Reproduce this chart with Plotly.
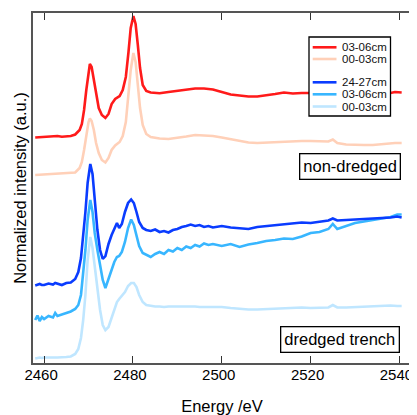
import plotly.graph_objects as go

# ---------------- data ----------------
energy_nd = [2458, 2460, 2462, 2463, 2464, 2466, 2467, 2468, 2468.5, 2469, 2469.5, 2470, 2470.3, 2470.7,
             2471.2, 2471.7, 2472.3, 2473, 2473.8, 2474.5, 2475.2, 2476, 2477, 2477.7, 2478.4, 2479,
             2479.5, 2480.1, 2480.6, 2481.1, 2481.6, 2482.2, 2483, 2484, 2486, 2488, 2490, 2492, 2494,
             2496, 2498, 2500, 2502, 2504, 2506, 2508, 2510, 2512, 2514, 2516, 2518, 2520, 2522, 2524,
             2525, 2526, 2528, 2530, 2532, 2534, 2536, 2538, 2539, 2540.5]

nd_03_06 = [2.255, 2.26, 2.265, 2.27, 2.262, 2.27, 2.285, 2.33, 2.39, 2.53, 2.73, 2.93, 2.99, 2.96,
            2.83, 2.67, 2.55, 2.48, 2.45, 2.49, 2.59, 2.64, 2.67, 2.73, 2.86, 3.11,
            3.35, 3.47, 3.39, 3.18, 2.95, 2.78, 2.72, 2.705, 2.697, 2.71, 2.72, 2.735, 2.745,
            2.745, 2.735, 2.71, 2.685, 2.675, 2.665, 2.665, 2.675, 2.69, 2.705, 2.695, 2.70, 2.697, 2.70, 2.70,
            2.698, 2.695, 2.70, 2.70, 2.70, 2.70, 2.70, 2.70, 2.71, 2.705]

nd_00_03 = [1.88, 1.885, 1.885, 1.89, 1.89, 1.895, 1.905, 1.95, 2.01, 2.13, 2.28, 2.41, 2.445, 2.42,
            2.33, 2.20, 2.10, 2.03, 2.005, 2.05, 2.13, 2.175, 2.21, 2.27, 2.41, 2.67,
            2.93, 3.10, 3.01, 2.78, 2.55, 2.38, 2.29, 2.26, 2.245, 2.24, 2.25, 2.265, 2.28,
            2.275, 2.27, 2.255, 2.24, 2.225, 2.205, 2.20, 2.205, 2.21, 2.215, 2.22, 2.22, 2.22, 2.215, 2.215,
            2.235, 2.20, 2.185, 2.18, 2.18, 2.18, 2.19, 2.195, 2.20, 2.20]

energy_dr = [2458, 2458.5, 2459, 2459.5, 2460, 2461, 2462, 2462.5, 2463, 2464, 2465, 2466, 2467, 2467.7,
             2468.3, 2468.8, 2469.3, 2469.8, 2470.4, 2470.9, 2471.4, 2472, 2472.6, 2473.2, 2473.8,
             2474.5, 2475.2, 2475.8, 2476.4, 2476.9, 2477.5, 2478.2, 2478.9, 2479.6, 2480.2, 2480.8,
             2481.4, 2482.2, 2483, 2484, 2485, 2486, 2487, 2488, 2489, 2490, 2491, 2492, 2493, 2494,
             2495, 2496, 2497, 2498, 2500, 2502, 2504, 2506, 2508, 2510, 2512, 2514, 2516, 2518, 2520,
             2522, 2524, 2525, 2526, 2528, 2530, 2532, 2534, 2536, 2538, 2539.5, 2540.5]

dr_24_27 = [0.775, 0.785, 0.79, 0.78, 0.78, 0.795, 0.785, 0.80, 0.795, 0.78, 0.80, 0.805, 0.84, 0.91,
            1.05, 1.25, 1.51, 1.80, 1.99, 1.89, 1.63, 1.33, 1.13, 1.04, 1.07,
            1.19, 1.28, 1.35, 1.40, 1.35, 1.39, 1.51, 1.60, 1.635, 1.60, 1.51,
            1.41, 1.35, 1.33, 1.32, 1.335, 1.31, 1.32, 1.305, 1.33, 1.34, 1.36, 1.37, 1.385, 1.37,
            1.38, 1.36, 1.37, 1.355, 1.37, 1.355, 1.345, 1.34, 1.36, 1.37, 1.375, 1.39, 1.395, 1.405, 1.40,
            1.415, 1.425, 1.445, 1.425, 1.43, 1.435, 1.435, 1.445, 1.45, 1.455, 1.465, 1.455]

dr_03_06 = [0.43, 0.475, 0.42, 0.46, 0.44, 0.47, 0.455, 0.50, 0.47, 0.485, 0.50, 0.515, 0.54, 0.58,
            0.68, 0.88, 1.13, 1.43, 1.63, 1.51, 1.30, 1.13, 0.99, 0.83, 0.75,
            0.84, 0.95, 1.01, 1.06, 1.07, 1.11, 1.21, 1.35, 1.435, 1.38, 1.27,
            1.17, 1.10, 1.08, 1.06, 1.09, 1.11, 1.09, 1.13, 1.115, 1.15, 1.13, 1.165, 1.15, 1.18,
            1.165, 1.195, 1.18, 1.19, 1.17, 1.19, 1.16, 1.185, 1.20, 1.22, 1.23, 1.245, 1.24, 1.265, 1.30,
            1.31, 1.34, 1.39, 1.34, 1.37, 1.40, 1.415, 1.43, 1.445, 1.46, 1.485, 1.485]

dr_00_03 = [0.045, 0.05, 0.055, 0.05, 0.055, 0.055, 0.05, 0.055, 0.055, 0.055, 0.06, 0.065, 0.09, 0.14,
            0.25, 0.43, 0.68, 1.03, 1.26, 1.15, 0.96, 0.73, 0.53, 0.38, 0.33,
            0.36, 0.45, 0.55, 0.61, 0.64, 0.67, 0.71, 0.77, 0.80, 0.80, 0.76,
            0.68, 0.61, 0.58, 0.57, 0.565, 0.565, 0.56, 0.565, 0.565, 0.57, 0.565, 0.57, 0.565, 0.565,
            0.56, 0.56, 0.555, 0.56, 0.56, 0.55, 0.54, 0.535, 0.535, 0.54, 0.545, 0.545, 0.55, 0.555, 0.55,
            0.555, 0.555, 0.58, 0.555, 0.555, 0.56, 0.565, 0.565, 0.57, 0.575, 0.57, 0.57]

legend_labels = ["03-06cm", "00-03cm", "24-27cm", "03-06cm", "00-03cm"]
x_ticks = [2460, 2480, 2500, 2520, 2540]
x_tick_labels = ["2460", "2480", "2500", "2520", "2540"]

# ---------------- styling ----------------
colors = ["#ff1a1a", "#ffd0b8", "#0a3cff", "#38b6ff", "#bfe6ff"]
series = [
    (energy_nd, nd_03_06),
    (energy_nd, nd_00_03),
    (energy_dr, dr_24_27),
    (energy_dr, dr_03_06),
    (energy_dr, dr_00_03),
]
draw_order = [1, 0, 4, 3, 2]

fig = go.Figure()
for i in draw_order:
    x, y = series[i]
    fig.add_trace(go.Scatter(x=x, y=y, mode="lines", name=legend_labels[i],
                             line=dict(color=colors[i], width=2.6), showlegend=False))

FONT = "Arial, Liberation Sans, sans-serif"

# the page body adds an 8 px offset; margins compensate so the plot area sits at x 33-411, y 13-363
fig.update_layout(
    width=409, height=407,
    margin=dict(l=25, r=6, t=5, b=52),
    paper_bgcolor="white", plot_bgcolor="white",
    font=dict(family=FONT, color="black", size=16),
    xaxis=dict(range=[2457.5, 2542.6], tickvals=x_ticks, ticktext=x_tick_labels,
               ticks="inside", ticklen=7,
               tickcolor="#333", tickwidth=1.2, showline=True, linecolor="#555", linewidth=1.5,
               mirror="ticks", showgrid=False, zeroline=False, automargin=False,
               tickfont=dict(size=15, family=FONT), ticklabelstandoff=-3, ticklabelshift=-3,
               ticklabeloverflow="allow",
               title=dict(text="Energy /eV", font=dict(size=16.5, family=FONT), standoff=19)),
    yaxis=dict(range=[0, 3.5], showticklabels=False, ticks="", showline=True, linecolor="#555",
               linewidth=1.5, mirror=True, showgrid=False, zeroline=False, automargin=False,
               title=dict(text="Normalized intensity (a.u.)", font=dict(size=16.5, family=FONT), standoff=0)),
)

# ---- legend box (drawn as shapes/annotations for compact spacing) ----
def px2x(px):
    return (px - 33) / 378.0

def py2y(py):
    return (363 - py) / 350.0

shapes = [dict(type="rect", xref="paper", yref="paper", x0=px2x(309), x1=px2x(390.5),
               y0=py2y(116), y1=py2y(37), line=dict(color="black", width=1.3),
               fillcolor="white", layer="above")]
entry_py = [47.3, 59, 82.3, 94.3, 106.5]
annotations = []
for k, (lab, py) in enumerate(zip(legend_labels, entry_py)):
    shapes.append(dict(type="line", xref="paper", yref="paper", x0=px2x(312.7), x1=px2x(336.5),
                       y0=py2y(py), y1=py2y(py), line=dict(color=colors[k], width=2.6), layer="above"))
    annotations.append(dict(text=lab, xref="paper", yref="paper", x=px2x(340), y=py2y(py),
                            xanchor="left", yanchor="middle", showarrow=False,
                            font=dict(size=11.5, family=FONT, color="#111")))

annotations.append(dict(text="non-dredged", xref="paper", yref="paper", x=px2x(349.5), y=py2y(166.3),
                        xanchor="center", yanchor="middle", showarrow=False,
                        bordercolor="black", borderwidth=1.3, borderpad=3, bgcolor="white",
                        font=dict(size=16.5, family=FONT)))
annotations.append(dict(text="dredged trench", xref="paper", yref="paper", x=px2x(339.7), y=py2y(339.2),
                        xanchor="center", yanchor="middle", showarrow=False,
                        bordercolor="black", borderwidth=1.3, borderpad=3, bgcolor="white",
                        font=dict(size=16.5, family=FONT)))

fig.update_layout(shapes=shapes, annotations=annotations)

fig.write_html("out.html")
